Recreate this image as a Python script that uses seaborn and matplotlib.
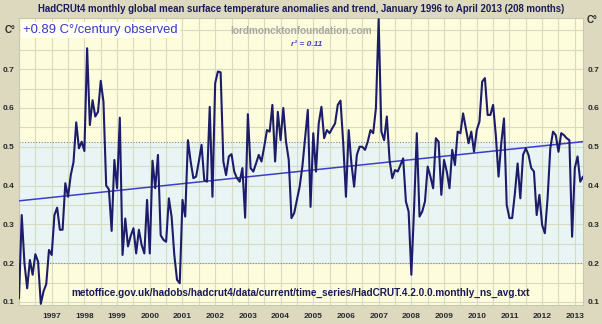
import numpy as np
import pandas as pd
import seaborn as sns
import matplotlib
matplotlib.use("Agg")
import matplotlib.pyplot as plt

# Monthly HadCRUT4 anomalies (C), Jan 1996 .. Apr 2013
y1996 = [0.109, 0.324, 0.200, 0.135, 0.208, 0.170, 0.223, 0.204, 0.095, 0.127, 0.146, 0.234]
y1997 = [0.221, 0.324, 0.343, 0.286, 0.286, 0.406, 0.371, 0.427, 0.460, 0.563, 0.496, 0.513]
y1998 = [0.489, 0.754, 0.556, 0.620, 0.578, 0.590, 0.670, 0.616, 0.400, 0.390, 0.283, 0.466]
y1999 = [0.393, 0.575, 0.221, 0.315, 0.243, 0.270, 0.290, 0.225, 0.286, 0.247, 0.225, 0.363]
y2000 = [0.225, 0.464, 0.393, 0.479, 0.272, 0.260, 0.255, 0.367, 0.320, 0.221, 0.157, 0.148]
y2001 = [0.363, 0.320, 0.517, 0.462, 0.419, 0.423, 0.462, 0.505, 0.414, 0.410, 0.603, 0.371]
y2002 = [0.664, 0.694, 0.692, 0.462, 0.427, 0.475, 0.481, 0.436, 0.419, 0.410, 0.445, 0.317]
y2003 = [0.584, 0.445, 0.436, 0.457, 0.479, 0.462, 0.500, 0.543, 0.539, 0.608, 0.462, 0.590]
y2004 = [0.517, 0.600, 0.513, 0.466, 0.316, 0.329, 0.363, 0.397, 0.449, 0.522, 0.595, 0.345]
y2005 = [0.535, 0.436, 0.560, 0.603, 0.522, 0.543, 0.535, 0.548, 0.560, 0.608, 0.619, 0.509]
y2006 = [0.371, 0.543, 0.457, 0.397, 0.479, 0.500, 0.500, 0.492, 0.513, 0.543, 0.535, 0.600]
y2007 = [0.829, 0.539, 0.517, 0.578, 0.466, 0.419, 0.440, 0.436, 0.453, 0.470, 0.359, 0.333]
y2008 = [0.170, 0.341, 0.535, 0.320, 0.333, 0.359, 0.449, 0.423, 0.393, 0.522, 0.513, 0.376]
y2009 = [0.466, 0.436, 0.393, 0.492, 0.453, 0.539, 0.535, 0.586, 0.548, 0.509, 0.539, 0.487]
y2010 = [0.543, 0.565, 0.668, 0.677, 0.582, 0.582, 0.608, 0.530, 0.423, 0.509, 0.573, 0.350]
y2011 = [0.316, 0.316, 0.380, 0.457, 0.367, 0.479, 0.496, 0.479, 0.445, 0.436, 0.324, 0.376]
y2012 = [0.298, 0.277, 0.367, 0.496, 0.539, 0.530, 0.487, 0.535, 0.530, 0.522, 0.517, 0.268]
y2013 = [0.445, 0.475, 0.410, 0.423]

year_labels = [str(y) for y in range(1997, 2014)]
y_labels = ["0.1", "0.2", "0.3", "0.4", "0.5", "0.6", "0.7"]

title = ("HadCRUt4 monthly global mean surface temperature anomalies and trend, "
         "January 1996 to April 2013 (208 months)")
trend_text = "+0.89 C\u00b0/century observed"
site_text = "lordmoncktonfoundation.com"
r2_text = "r\u00b2 = 0.11"
src_text = "metoffice.gov.uk/hadobs/hadcrut4/data/current/time_series/HadCRUT.4.2.0.0.monthly_ns_avg.txt"

anoms = (y1996 + y1997 + y1998 + y1999 + y2000 + y2001 + y2002 + y2003 + y2004
         + y2005 + y2006 + y2007 + y2008 + y2009 + y2010 + y2011 + y2012 + y2013)
t = 1996 + np.arange(len(anoms)) / 12.0
df = pd.DataFrame({"t": t, "anom": anoms})
slope, icpt = np.polyfit(df["t"], df["anom"], 1)
df["trend"] = icpt + slope * df["t"]

sns.set_theme(style="white")
plt.rcParams["font.family"] = ["Liberation Sans", "DejaVu Sans"]

W, H = 602, 324
fig = plt.figure(figsize=(W / 100, H / 100), dpi=100)
fig.patch.set_facecolor("#dcd9bf")
L, R, T, B = 19, 583, 18, 305
ax = fig.add_axes([L / W, 1 - B / H, (R - L) / W, (B - T) / H])
ax.set_facecolor("#fdfcdc")

ymin, ymax = 0.092, 0.832
ax.set_xlim(t[0], t[-1])
ax.set_ylim(ymin, ymax)
ax.axhspan(0.2, 0.511, color="#e8f5f4", zorder=0, lw=0)

for gx in np.arange(1996.5, 2013.3, 0.5):
    ax.axvline(gx, color="#d6dbc2", lw=0.8, zorder=1)
for gy in np.arange(0.1, 0.84, 0.05):
    ax.axhline(gy, color="#d6dbc2", lw=0.8, zorder=1)
ax.axhline(0.2, color="#8a8a8a", lw=0.8, ls=(0, (1, 1.5)), zorder=2)
ax.axhline(0.511, color="#8a8a8a", lw=0.8, ls=(0, (1, 1.5)), zorder=2)

sns.lineplot(data=df, x="t", y="trend", ax=ax, color="#3d3dcc", lw=1.1, zorder=3)
sns.lineplot(data=df, x="t", y="anom", ax=ax, color="#1c1c6a", lw=1.5, zorder=4)

ax.set_xlabel("")
ax.set_ylabel("")
ax.set_xticks(np.arange(1997, 2014))
ax.set_xticklabels(year_labels)
ax.set_yticks([0.1, 0.2, 0.3, 0.4, 0.5, 0.6, 0.7])
ax.set_yticklabels(y_labels)
ax.tick_params(axis="both", length=0, labelsize=6.0, labelcolor="#2a2a2a")
ax.tick_params(axis="x", pad=6)
ax.tick_params(axis="y", labelleft=True, labelright=True, pad=3)
for tk in ax.xaxis.get_major_ticks() + ax.yaxis.get_major_ticks():
    for lab in (tk.label1, tk.label2):
        lab.set_fontweight("bold")
        lab.set_fontsize(6.0)
        lab.set_color("#2a2a2a")

for s in ax.spines.values():
    s.set_color("#c8c8b0")
    s.set_linewidth(0.8)

fig.text(301 / W, 1 - 9 / H, title, ha="center", va="center",
         fontsize=6.95, fontweight="bold", color="#1a1a5a")
fig.text(10 / W, 1 - 30 / H, "C\u00b0", ha="center", va="center",
         fontsize=7, fontweight="bold", color="#2a2a2a")
fig.text(592 / W, 1 - 20 / H, "C\u00b0", ha="center", va="center",
         fontsize=7, fontweight="bold", color="#2a2a2a")
fig.text(23 / W, 1 - 30 / H, trend_text, ha="left", va="center",
         fontsize=9.4, color="#3838c8",
         bbox=dict(facecolor="#fffff6", edgecolor="none", pad=1.5))
fig.text(301 / W, 1 - 31 / H, site_text, ha="center", va="center",
         fontsize=7.2, fontweight="bold", color="#a8a8a0")
fig.text(307 / W, 1 - 44 / H, r2_text, ha="center", va="center",
         fontsize=6.0, fontweight="bold", style="italic", color="#4040c0")
fig.text(301 / W, 1 - 293 / H, src_text, ha="center", va="center",
         fontsize=7.2, fontweight="bold", color="#1a1a5a")

fig.savefig("out.png", dpi=100, facecolor=fig.get_facecolor())
